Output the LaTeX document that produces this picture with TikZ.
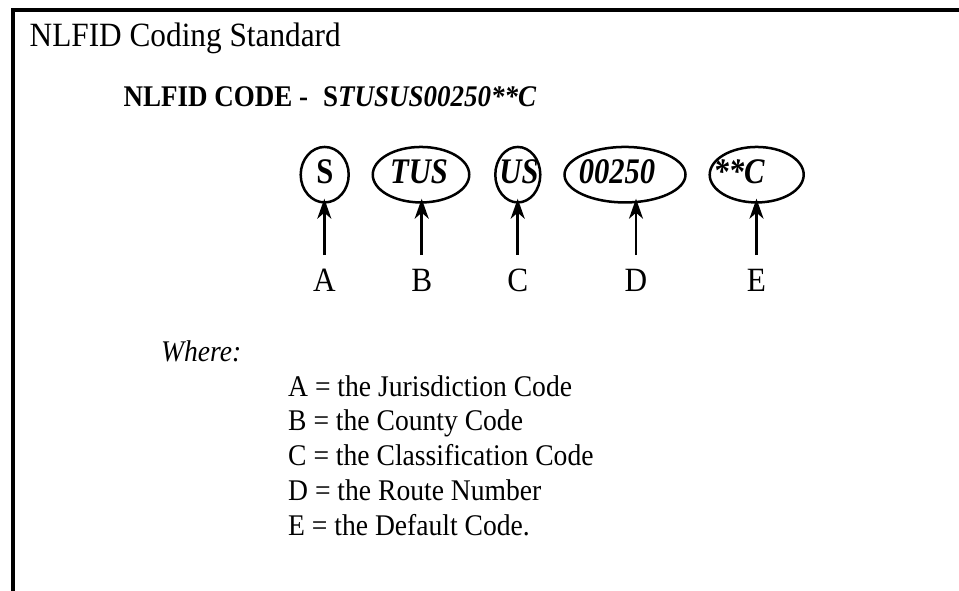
\documentclass[tikz,border=0pt]{standalone}
\usepackage{fontspec}
\setmainfont{Liberation Serif}
\newfontfamily\titlefont{Liberation Serif}[FakeStretch=0.92]
\newfontfamily\codefont{Liberation Serif}[FakeStretch=0.9]
\newfontfamily\ellfont{Liberation Serif}[FakeStretch=0.85]
\newfontfamily\itemfont{Liberation Serif}[FakeStretch=0.92]
\usetikzlibrary{shapes.geometric,arrows.meta,calc}
\begin{document}
\begin{tikzpicture}[x=1pt,y=-1pt,
  txt/.style={inner sep=0pt, anchor=base west},
  ell/.style={ellipse, draw, line width=2.5pt, inner sep=0pt, minimum height=55.5pt},
  etext/.style={inner sep=0pt, anchor=base, font=\ellfont\fontsize{36}{42}\selectfont\bfseries\itshape},
  lab/.style={inner sep=0pt, anchor=base, font=\titlefont\fontsize{34}{40}\selectfont},
  arr/.style={line width=2.5pt, -{Stealth[length=20pt,width=14pt,inset=6pt]}},
  item/.style={txt, font=\itemfont\fontsize{30}{36}\selectfont}]
\useasboundingbox (0,0) rectangle (959,591);
\draw[line width=4pt] (13,591) -- (13,10) -- (959,10);
\node[txt, font=\titlefont\fontsize{34}{40}\selectfont] (title) at (29.5,46.7) {NLFID Coding Standard};
\node[txt, font=\codefont\fontsize{30}{36}\selectfont\bfseries] (code) at (123.5,106.7)
  {NLFID CODE -\hspace{0.5em}S\textit{TUSUS00250**C}};
% ellipses
\node[ell, minimum width=48pt] (e1) at (324.7,174.7) {};
\node[ell, minimum width=96.5pt] (e2) at (421,174.7) {};
\node[ell, minimum width=45pt] (e3) at (517.8,174.7) {};
\node[ell, minimum width=121pt] (e4) at (625,174.7) {};
\node[ell, minimum width=94pt] (e5) at (756.7,174.7) {};
\node[etext] (t1) at (325,183) {\upshape S};
\node[etext] (t2) at (419,183) {TUS};
\node[etext] (t3) at (519,183) {US};
\node[etext] (t4) at (617,183) {00250};
\node[etext] (t5) at (739,183) {**C};
% labels
\node[lab] (l1) at (324.3,291.7) {A};
\node[lab] (l2) at (421.7,291.7) {B};
\node[lab] (l3) at (517.7,291.7) {C};
\node[lab] (l4) at (636,291.7) {D};
\node[lab] (l5) at (756.5,291.7) {E};
\foreach \i in {1,...,5}{
  \draw[arr] ($(l\i.north)+(0,-14)$) -- ($(l\i.north |- e\i.south)+(0,-5)$);
}
\node[txt, font=\itemfont\fontsize{30}{36}\selectfont\itshape] (where) at (161,361.5) {Where:};
\node[item] (i1) at (288,396) {A = the Jurisdiction Code};
\node[item] (i2) at (288,430.8) {B = the County Code};
\node[item] (i3) at (288,465.6) {C = the Classification Code};
\node[item] (i4) at (288,500.4) {D = the Route Number};
\node[item] (i5) at (288,535.2) {E = the Default Code.};
\end{tikzpicture}
\end{document}
